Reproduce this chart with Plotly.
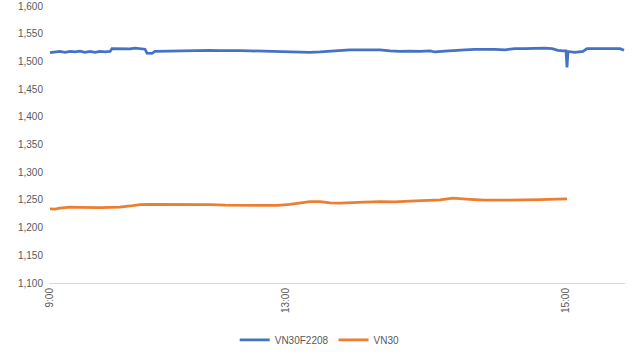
import plotly.graph_objects as go

# point index along the (category) time axis; 9:00 = 0
blue_idx = [0, 5, 10, 15, 20, 25, 30, 35, 40, 45, 50, 55, 60, 62, 70, 80, 85, 90, 95, 97, 102, 105,
            115, 130, 150, 160, 170, 180, 190, 200, 210, 220, 230, 240, 250, 260, 270, 280, 290, 300,
            310, 320, 330, 340, 350, 360, 370, 380, 385, 395, 405, 415, 425, 435, 445, 455, 465, 475,
            485, 495, 502, 508, 513, 516, 517, 518, 525, 533, 537, 550, 560, 570, 574]
blue_val = [1516, 1517, 1518, 1516.5, 1518, 1517, 1518.5, 1516.5, 1518, 1516.5, 1518, 1517, 1518, 1523,
            1523, 1522.5, 1524, 1523.5, 1522, 1515, 1514.5, 1518,
            1518.5, 1519, 1519.5, 1520, 1519.5, 1520, 1519.5, 1519, 1518.5, 1519, 1518.5, 1518, 1517, 1516.5,
            1517, 1518.5, 1520, 1521, 1521, 1520.5, 1521, 1519, 1518, 1518.5, 1518, 1519, 1517, 1518.5,
            1520, 1521, 1521.5, 1522, 1521.5, 1521, 1523, 1523, 1523.5, 1524, 1523, 1520, 1519, 1519,
            1489, 1518, 1516.5, 1518, 1523, 1523.5, 1523, 1523, 1520]

orange_idx = [0, 5, 10, 20, 30, 40, 50, 60, 70, 80, 90, 100, 120, 140, 160, 175, 190, 210, 228, 240,
              250, 260, 270, 280, 290, 305, 315, 330, 345, 360, 375, 390, 403, 412, 420, 435, 450, 465,
              475, 490, 505, 513, 517]
orange_val = [1234, 1233.5, 1235, 1237, 1236.5, 1236, 1236, 1236.5, 1237, 1239, 1241.5, 1242, 1242, 1242,
              1241.5, 1240.5, 1240, 1240.5, 1240, 1242, 1245, 1247, 1247, 1244.5, 1244, 1244.5, 1246,
              1247, 1246.5, 1248, 1249.5, 1250, 1253, 1251.5, 1251, 1249.5, 1249.5, 1249, 1250, 1250.5,
              1251.5, 1251, 1252]

tick_idx = [0, 236, 516]
tick_text = ["9:00", "13:00", "15:00"]

fig = go.Figure()
fig.add_trace(go.Scatter(x=blue_idx, y=blue_val, mode="lines", name="VN30F2208",
                         line=dict(color="#4472C4", width=2.75)))
fig.add_trace(go.Scatter(x=orange_idx, y=orange_val, mode="lines", name="VN30",
                         line=dict(color="#ED7D31", width=2.75)))

fig.update_layout(
    width=632, height=360,
    margin=dict(l=49, r=7, t=6, b=77, autoexpand=False),
    paper_bgcolor="white", plot_bgcolor="white",
    font=dict(family="Liberation Sans, Arial, sans-serif", size=10, color="#595959"),
    showlegend=True,
    legend=dict(orientation="h", x=0.47, xanchor="center", y=-0.205, yanchor="middle",
                font=dict(size=10, color="#595959"), itemwidth=30, tracegroupgap=0),
)
fig.update_xaxes(range=[-1, 575], tickvals=tick_idx, ticktext=tick_text, tickangle=-90,
                 showgrid=False, zeroline=False, showline=True, linecolor="#D9D9D9", linewidth=1,
                 ticks="", automargin=False, tickfont=dict(size=10, color="#595959"))
fig.update_yaxes(range=[1100, 1600], dtick=50, tickformat=",", showgrid=False, zeroline=False,
                 showline=False, ticks="", automargin=False, ticklabelstandoff=5,
                 tickfont=dict(size=10, color="#595959"))

fig.write_html("out.html", config={"displayModeBar": False},
               post_script="document.body.style.margin='0';document.body.style.overflow='hidden';")
